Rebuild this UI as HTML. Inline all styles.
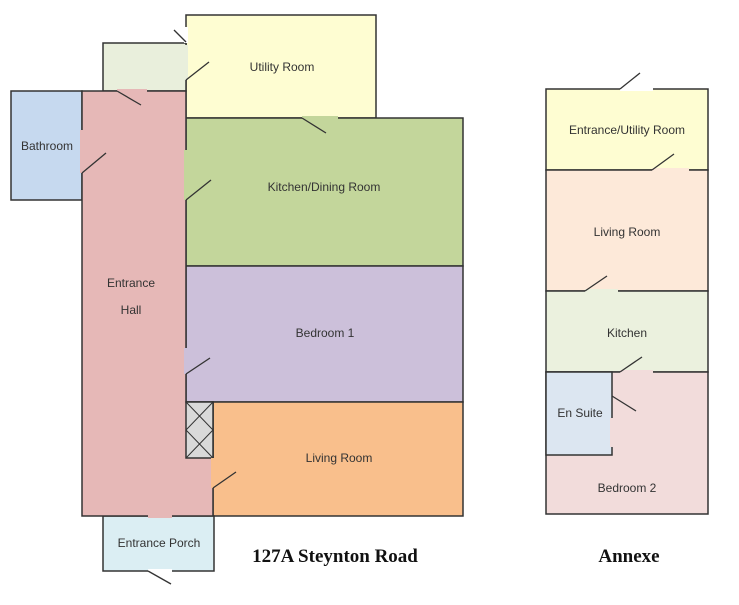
<!DOCTYPE html>
<html><head><style>
body{margin:0;background:#fff;width:739px;height:600px;overflow:hidden}
text{font-family:"Liberation Sans",sans-serif;font-size:12px;fill:#333}
</style></head><body>
<svg width="739" height="600" viewBox="0 0 739 600">
<g stroke="#333" stroke-width="1.5">
<rect x="186" y="15" width="190" height="103" fill="#fefdd2"/>
<rect x="103" y="43" width="83" height="48" fill="#e9efdc"/>
<rect x="11" y="91" width="71" height="109" fill="#c6d9ef"/>
<rect x="186" y="118" width="277" height="148" fill="#c3d69b"/>
<rect x="186" y="266" width="277" height="136" fill="#ccc0da"/>
<rect x="213" y="402" width="250" height="114" fill="#f9bf8c"/>
<rect x="103" y="516" width="111" height="55" fill="#dbeef3"/>
<path d="M82 91 H186 V402 H213 V516 H82 Z" fill="#e6b8b7"/>
<rect x="186" y="402" width="27" height="56" fill="#d9d9d9"/>
<path d="M186 402 L213 430 L186 458 M213 402 L186 430 L213 458" fill="none" stroke-width="1"/>
</g>
<g stroke-width="4">
<line x1="117" y1="91" x2="147" y2="91" stroke="#e6b8b7"/>
<line x1="186" y1="45" x2="186" y2="80" stroke="#e9efdc"/>
<line x1="186" y1="27" x2="186" y2="43" stroke="#fff"/>
<line x1="302" y1="118" x2="338" y2="118" stroke="#c3d69b"/>
<line x1="82" y1="130" x2="82" y2="173" stroke="#e6b8b7"/>
<line x1="186" y1="150" x2="186" y2="200" stroke="#c3d69b"/>
<line x1="186" y1="348" x2="186" y2="374" stroke="#ccc0da"/>
<line x1="213" y1="458" x2="213" y2="488" stroke="#f9bf8c"/>
<line x1="148" y1="516" x2="172" y2="516" stroke="#e6b8b7"/>
<line x1="148" y1="571" x2="172" y2="571" stroke="#fff"/>
</g>
<g stroke="#333" stroke-width="1.3">
<line x1="117" y1="91" x2="141" y2="105"/>
<line x1="186" y1="80" x2="209" y2="62"/>
<line x1="174" y1="30" x2="186" y2="42"/>
<line x1="302" y1="118" x2="326" y2="133"/>
<line x1="82" y1="173" x2="106" y2="153"/>
<line x1="186" y1="200" x2="211" y2="180"/>
<line x1="186" y1="374" x2="210" y2="358"/>
<line x1="213" y1="488" x2="236" y2="472"/>
<line x1="148" y1="571" x2="171" y2="584"/>
</g>
<text x="282" y="71" text-anchor="middle">Utility Room</text>
<text x="47" y="150" text-anchor="middle">Bathroom</text>
<text x="324" y="191" text-anchor="middle">Kitchen/Dining Room</text>
<text x="131" y="287" text-anchor="middle">Entrance</text>
<text x="131" y="314" text-anchor="middle">Hall</text>
<text x="325" y="337" text-anchor="middle">Bedroom 1</text>
<text x="339" y="462" text-anchor="middle">Living Room</text>
<text x="159" y="547" text-anchor="middle">Entrance Porch</text>
<text x="335" y="562" text-anchor="middle" style="font-family:'Liberation Serif',serif;font-weight:bold;font-size:19px;fill:#111">127A Steynton Road</text>
<g stroke="#333" stroke-width="1.5">
<rect x="546" y="89" width="162" height="81" fill="#fefdd2"/>
<rect x="546" y="170" width="162" height="121" fill="#fde9d9"/>
<rect x="546" y="291" width="162" height="81" fill="#ebf1de"/>
<rect x="546" y="372" width="162" height="142" fill="#f2dcdb"/>
<rect x="546" y="372" width="66" height="83" fill="#dce6f1"/>
</g>
<g stroke-width="4">
<line x1="620" y1="89" x2="653" y2="89" stroke="#fff"/>
<line x1="652" y1="170" x2="689" y2="170" stroke="#fde9d9"/>
<line x1="585" y1="291" x2="618" y2="291" stroke="#ebf1de"/>
<line x1="620" y1="372" x2="653" y2="372" stroke="#f2dcdb"/>
<line x1="612" y1="418" x2="612" y2="447" stroke="#f2dcdb"/>
</g>
<g stroke="#333" stroke-width="1.3">
<line x1="620" y1="89" x2="640" y2="73"/>
<line x1="652" y1="170" x2="674" y2="154"/>
<line x1="585" y1="291" x2="607" y2="276"/>
<line x1="620" y1="372" x2="642" y2="357"/>
<line x1="612" y1="396" x2="636" y2="411"/>
</g>
<text x="627" y="134" text-anchor="middle">Entrance/Utility Room</text>
<text x="627" y="236" text-anchor="middle">Living Room</text>
<text x="627" y="337" text-anchor="middle">Kitchen</text>
<text x="580" y="417" text-anchor="middle">En Suite</text>
<text x="627" y="492" text-anchor="middle">Bedroom 2</text>
<text x="629" y="562" text-anchor="middle" style="font-family:'Liberation Serif',serif;font-weight:bold;font-size:19px;fill:#111">Annexe</text>
</svg>
</body></html>
